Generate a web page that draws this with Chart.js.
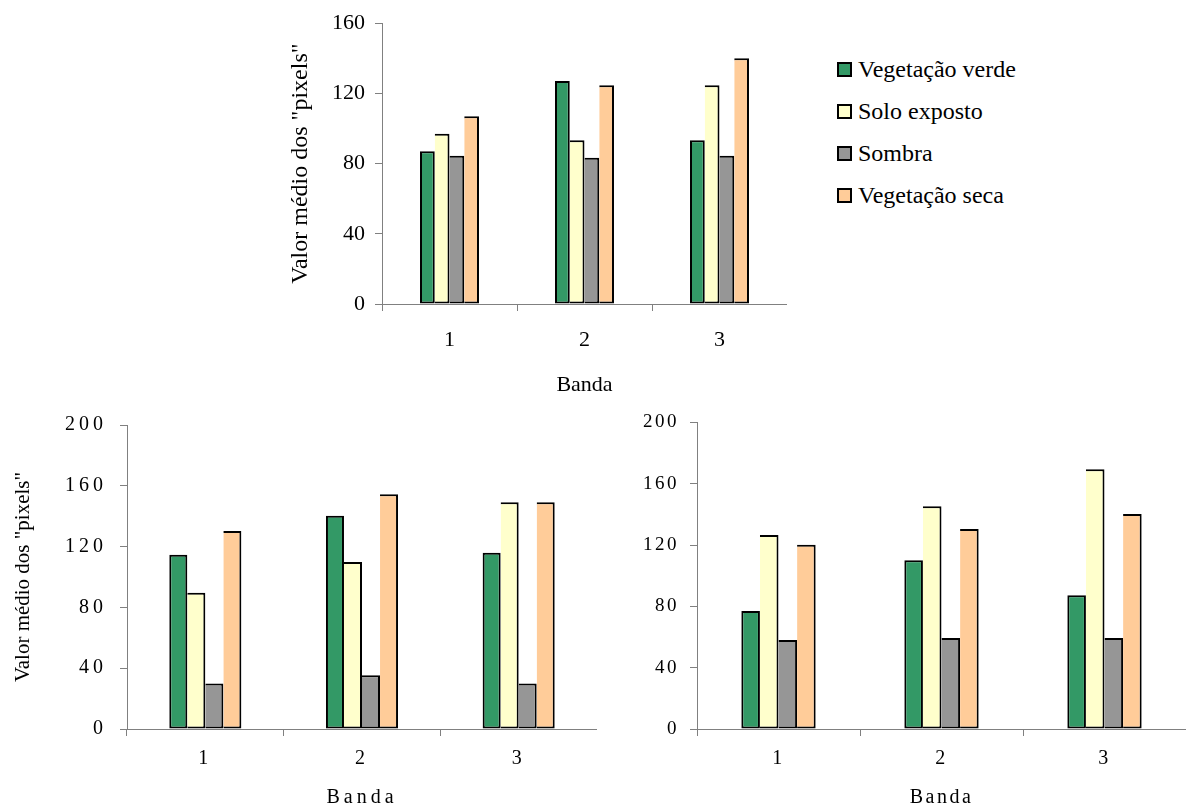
<!DOCTYPE html>
<html lang="pt">
<head>
<meta charset="utf-8">
<script src="https://cdn.jsdelivr.net/npm/chart.js@4"></script>
<style>
  html, body { margin: 0; padding: 0; background: #fff; overflow: hidden; }
  body { width: 1187px; height: 810px; position: relative; font-family: "Liberation Serif", serif; }
  .caixa { position: absolute; }
  #legenda { position: absolute; left: 837px; top: 48px; }
  .item { display: flex; align-items: center; height: 42px; font-size: 24px; color: #000; }
  .cor { width: 15px; height: 15px; box-sizing: border-box; border: 2px solid #000; margin-right: 6px; }
</style>
</head>
<body>
<div class="caixa" style="left:282px;top:0;width:505px;height:402px"><canvas id="graficoA"></canvas></div>
<div id="legenda"></div>
<div class="caixa" style="left:7px;top:400px;width:590px;height:410px"><canvas id="graficoB"></canvas></div>
<div class="caixa" style="left:600px;top:400px;width:586px;height:410px"><canvas id="graficoC"></canvas></div>
<script>
const bandas = ["1", "2", "3"];
const classes = ["Vegetação verde", "Solo exposto", "Sombra", "Vegetação seca"];
const cores = ["#339966", "#FFFFCC", "#969696", "#FFCC99"];

// grafico de cima
const verdeA = [87, 127, 93.3];
const soloA = [97, 93.3, 124.7];
const sombraA = [84.5, 83.4, 84.5];
const secaA = [107, 124.7, 140];
const ticksA = [0, 40, 80, 120, 160];

// embaixo, esquerda
const verdeB = [114.7, 140.3, 116];
const soloB = [89.7, 109.9, 149.2];
const sombraB = [30, 35.4, 30];
const secaB = [130.3, 154.4, 149.2];
const ticksB = [0, 40, 80, 120, 160, 200];

// embaixo, direita
const verdeC = [77, 110, 87.2];
const soloC = [126.5, 145.3, 169.4];
const sombraC = [58.1, 59.4, 59.4];
const secaC = [120.2, 130.4, 140.3];
const ticksC = [0, 40, 80, 120, 160, 200];

const fonte = "'Liberation Serif', 'Times New Roman', serif";

// espaco entre letras (so nos graficos de baixo), sem mexer no titulo do eixo y
const espacamento = {
  id: "espacamento",
  beforeDraw(chart, args, opts) {
    const y = chart.scales.y;
    if (!y._semEspaco) {
      const orig = y.drawTitle.bind(y);
      y.drawTitle = () => {
        const ls = chart.ctx.letterSpacing;
        chart.ctx.letterSpacing = "0px";
        orig();
        chart.ctx.letterSpacing = ls;
      };
      y._semEspaco = true;
    }
    chart.ctx.letterSpacing = (opts.px || 0) + "px";
  },
  afterDraw(chart) {
    chart.ctx.letterSpacing = "0px";
  },
};

const grafico = (id, series, yTicks, cfg) => {
  const datasets = series.map((data, i) => ({
    label: classes[i],
    data: data,
    backgroundColor: cores[i],
    borderColor: "#000",
    borderWidth: i === 0 ? 2 : { top: 2, right: 2, bottom: 2, left: 0 },
    borderSkipped: false,
    barPercentage: 1,
    categoryPercentage: cfg.cat,
  }));

  const eixo = { color: "#808080", width: 1 };
  const grade = { drawOnChartArea: false, tickLength: 7, color: "#808080" };

  const config = {
    type: "bar",
    data: { labels: bandas, datasets: datasets },
    plugins: [espacamento],
    options: {
      responsive: true,
      maintainAspectRatio: false,
      animation: false,
      events: [],
      layout: { padding: { top: cfg.top, left: 0, right: 0, bottom: 0 } },
      plugins: {
        legend: { display: false },
        tooltip: { enabled: false },
        espacamento: { px: cfg.espaco },
      },
      scales: {
        x: {
          grid: { ...grade, offset: true },
          border: eixo,
          ticks: { color: "#000", padding: cfg.xPad, font: { family: fonte, size: cfg.fx } },
          title: {
            display: true,
            text: "Banda",
            color: "#000",
            padding: { top: 0, bottom: cfg.titPad },
            font: { family: fonte, size: cfg.fx },
          },
          afterFit: (s) => { s.height = cfg.xAlt; },
        },
        y: {
          min: yTicks[0],
          max: yTicks[yTicks.length - 1],
          grid: grade,
          border: eixo,
          ticks: {
            stepSize: yTicks[1] - yTicks[0],
            color: "#000",
            padding: cfg.yPad,
            font: { family: fonte, size: cfg.fy },
          },
          title: {
            display: !!cfg.yTitulo,
            text: cfg.yTitulo,
            color: "#000",
            padding: { top: 4, bottom: 4 },
            font: { family: fonte, size: cfg.fyt },
          },
          afterFit: (s) => { s.width = cfg.yLarg; },
        },
      },
    },
  };

  return new Chart(document.getElementById(id), config);
};

grafico("graficoA", [verdeA, soloA, sombraA, secaA], ticksA, {
  cat: 0.437, top: 23, xAlt: 98, yLarg: 100, xPad: 16, yPad: 10, titPad: 4,
  fx: 22, fy: 22, fyt: 24, espaco: 0, yTitulo: 'Valor médio dos "pixels"',
});

grafico("graficoB", [verdeB, soloB, sombraB, secaB], ticksB, {
  cat: 0.46, top: 23, xAlt: 81, yLarg: 120, xPad: 11, yPad: 13, titPad: 0,
  fx: 20, fy: 20, fyt: 21, espaco: 4, yTitulo: 'Valor médio dos "pixels"',
});

grafico("graficoC", [verdeC, soloC, sombraC, secaC], ticksC, {
  cat: 0.456, top: 22, xAlt: 81, yLarg: 97, xPad: 11, yPad: 11, titPad: 0,
  fx: 20, fy: 19, fyt: 20, espaco: 2.5, yTitulo: "",
});

// legenda do grafico de cima
const legenda = document.getElementById("legenda");
classes.forEach((nome, i) => {
  const item = document.createElement("div");
  item.className = "item";
  const cor = document.createElement("span");
  cor.className = "cor";
  cor.style.background = cores[i];
  const texto = document.createElement("span");
  texto.textContent = nome;
  item.append(cor, texto);
  legenda.appendChild(item);
});
</script>
</body>
</html>
